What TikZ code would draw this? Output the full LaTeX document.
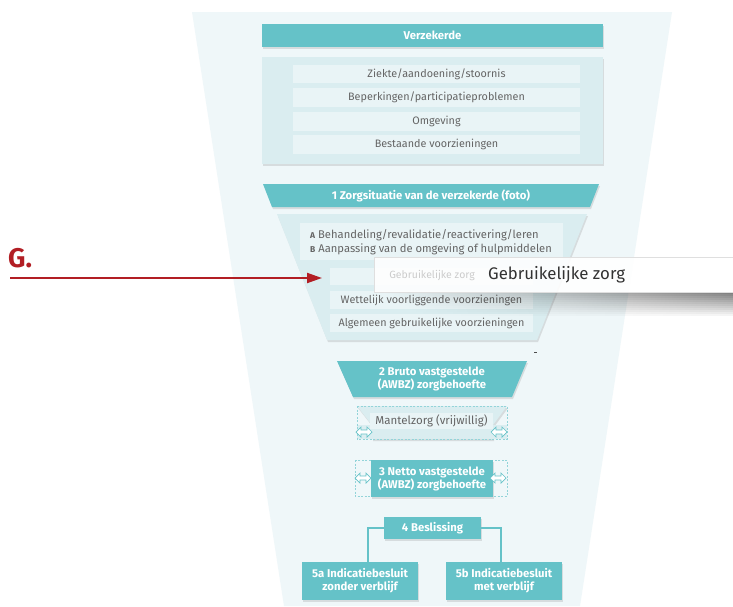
\documentclass[tikz,border=0pt]{standalone}
\usepackage{fontspec}
\setmainfont{Fira Sans}
\usetikzlibrary{arrows.meta,shadows,fadings}
\definecolor{funnelbg}{RGB}{239,247,249}
\definecolor{teal1}{RGB}{101,194,200}
\definecolor{lightbox}{RGB}{218,237,240}
\definecolor{rowfill}{RGB}{233,244,246}
\definecolor{txtgray}{RGB}{100,100,100}
\definecolor{gred}{RGB}{178,30,36}
\tikzfading[name=fadeleft, left color=transparent!100, right color=transparent!0]
\tikzset{
  shad/.style={drop shadow={opacity=0.22, shadow xshift=1pt, shadow yshift=-2pt}},
  hdrtext/.style={text=white, font=\fontsize{11.3}{13}\selectfont\bfseries, align=center, inner sep=0pt},
  hdrbox/.style={fill=teal1, hdrtext, shad},
  rowbox/.style={fill=rowfill, text=txtgray, font=\fontsize{10.8}{12}\selectfont, inner sep=0pt},
  dashbox/.style={draw=teal1!70, dashed, line width=0.4pt, dash pattern=on 2pt off 1.5pt},
  conn/.style={draw=teal1, line width=1.6pt},
  darrow/.pic={\draw[teal1, fill=white, line width=0.7pt, line join=miter]
     (-8,0) -- (-3,-5) -- (-3,-2) -- (3,-2) -- (3,-5) -- (8,0) -- (3,5) -- (3,2) -- (-3,2) -- (-3,5) -- cycle;}
}
\begin{document}
\begin{tikzpicture}[x=1pt,y=-1pt]
\useasboundingbox (0,0) rectangle (733,606);
\fill[white] (0,0) rectangle (733,606);
% funnel background
\fill[funnelbg] (192,12) -- (672,12) -- (580,606) -- (284,606) -- cycle;

% Verzekerde
\node[hdrbox, minimum width=341, minimum height=23] (verz) at (432.5,35.5) {Verzekerde};
\node[fill=lightbox, shad, minimum width=341, minimum height=107, inner sep=0pt] (verzbox) at (432.5,110.5) {};
\node[rowbox, minimum width=287, minimum height=18] (r1) at (436.5,74) {Ziekte/aandoening/stoornis};
\node[rowbox, minimum width=287, minimum height=19] (r2) at (436.5,97.5) {Beperkingen/participatieproblemen};
\node[rowbox, minimum width=287, minimum height=19] (r3) at (436.5,121.5) {Omgeving};
\node[rowbox, minimum width=287, minimum height=19] (r4) at (436.5,144.5) {Bestaande voorzieningen};

% 1 Zorgsituatie
\fill[teal1, shad] (263,184) -- (599,184) -- (590,207) -- (272,207) -- cycle;
\node[hdrtext] (h1) at (431,195.5) {1 Zorgsituatie van de verzekerde (foto)};
\fill[lightbox, shad] (277,214) -- (587,214) -- (537,340) -- (327,340) -- cycle;
\node[fill=rowfill, minimum width=263, minimum height=37, inner sep=0pt] (abbox) at (431.5,241.5) {};
\node[anchor=west, text=txtgray, font=\fontsize{11.2}{14}\selectfont, align=left, inner sep=0pt] (ab) at (310,242)
  {{\fontsize{8.5}{10}\selectfont\bfseries A} Behandeling/revalidatie/reactivering/leren\\
   {\fontsize{8.5}{10}\selectfont\bfseries B} Aanpassing van de omgeving of hulpmiddelen};
\node[rowbox, minimum width=203, minimum height=17] (gz) at (431.5,276.5) {};
\node[rowbox, minimum width=203, minimum height=18] (wv) at (431.5,300) {Wettelijk voorliggende voorzieningen};
\node[rowbox, minimum width=203, minimum height=18] (ag) at (431.5,323) {Algemeen gebruikelijke voorzieningen};

% popup shadow
\foreach \i in {0,...,11}{
  \fill[black, opacity={0.5*(1-\i/12)}, path fading=fadeleft] (385+3*\i,{292+2*\i}) rectangle (733,{294+2*\i});
}
% popup
\node[fill=white, fill opacity=0.88, draw=gray!25, line width=0.5pt, minimum width=362, minimum height=35, inner sep=0pt] (popup) at (555,274.5) {};
\node[text=gray!40, font=\fontsize{10.5}{12}\selectfont, inner sep=0pt] (gzfaint) at (432,276) {Gebruikelijke zorg};
\node[anchor=west, text=black!80, font=\fontsize{16.8}{18}\selectfont, inner sep=0pt] (gzbig) at (488,275) {Gebruikelijke zorg};

% tiny mark
\draw[black!70, line width=0.6pt] (534,352) -- (537,352);

% 2 Bruto
\fill[teal1, shad] (337,361) -- (527,361) -- (512,397) -- (353,397) -- cycle;
\node[hdrtext] (h2) at (432,379) {2 Bruto vastgestelde\\(AWBZ) zorgbehoefte};

% Mantelzorg
\fill[lightbox, shad] (357,406) -- (507,406) -- (493,425) -- (493,439) -- (372,439) -- (372,425) -- cycle;
\fill[lightbox] (357,425) rectangle (507,439);
\draw[dashbox] (357,406) rectangle (507,439);
\node[rowbox, minimum width=123, minimum height=16, font=\fontsize{11.5}{12}\selectfont] (mz) at (431.5,421) {Mantelzorg (vrijwillig)};
\pic at (364,432) {darrow};
\pic at (499,432) {darrow};

% 3 Netto
\draw[dashbox] (355,460) rectangle (507,496);
\node[hdrbox, minimum width=122, minimum height=37] (h3) at (432,478.5) {3 Netto vastgestelde\\(AWBZ) zorgbehoefte};
\pic at (363,478) {darrow};
\pic at (498,478) {darrow};

% 4 Beslissing and 5a/5b
\node[hdrbox, minimum width=97, minimum height=22] (besl) at (432.5,528) {4 Beslissing};
\node[hdrbox, minimum width=116, minimum height=38] (z5a) at (360,581) {5a Indicatiebesluit\\zonder verblijf};
\node[hdrbox, minimum width=116, minimum height=38] (z5b) at (504,581) {5b Indicatiebesluit\\met verblijf};
\draw[conn] (besl.west) -| ([xshift=8pt]z5a.north);
\draw[conn] (besl.east) -| ([xshift=-3pt]z5b.north);

% G. arrow
\node[text=gred, font=\fontsize{27}{30}\selectfont\bfseries, inner sep=0pt, anchor=west] (glab) at (8,258) {G.};
\coordinate (gstart) at (10,278);
\coordinate (gend) at (322,278);
\draw[gred, line width=2pt, -{Triangle[length=15pt,width=10pt]}] (gstart) -- (gend);
\end{tikzpicture}
\end{document}
